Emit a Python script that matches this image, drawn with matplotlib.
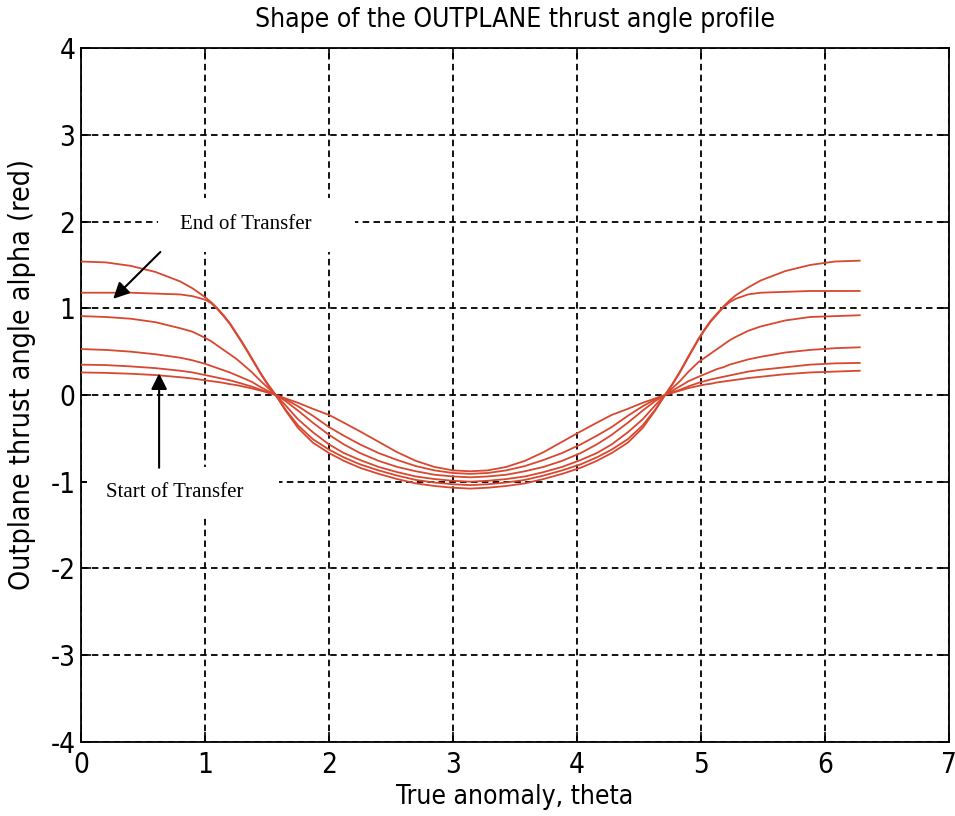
import numpy as np
import matplotlib
matplotlib.use('Agg')
import matplotlib.pyplot as plt
from matplotlib.patches import Rectangle

# true anomaly samples (rad)
theta = [0, 0.2, 0.4, 0.6, 0.8, 0.9, 1.0, 1.05, 1.1, 1.15, 1.2, 1.25, 1.3, 1.38, 1.45, 1.51,
         1.57, 1.65, 1.75, 1.87, 2.0, 2.12, 2.25, 2.4, 2.55, 2.7, 2.85, 3.0, 3.14,
         3.28, 3.43, 3.58, 3.73, 3.88, 4.03, 4.16, 4.28, 4.41, 4.53, 4.63, 4.71, 4.77, 4.83,
         4.90, 4.98, 5.03, 5.08, 5.13, 5.18, 5.23, 5.28, 5.38, 5.48, 5.68, 5.88, 6.08, 6.28]

# outplane thrust angle profiles (rad), from start to end of transfer
alpha_1 = [0.26, 0.255, 0.245, 0.23, 0.205, 0.19, 0.17, 0.16, 0.15, 0.14, 0.125, 0.115, 0.10, 0.075, 0.05, 0.025,
           0.0, -0.04, -0.09, -0.16, -0.23, -0.32, -0.42, -0.54, -0.66, -0.76, -0.83, -0.87, -0.88,
           -0.87, -0.83, -0.76, -0.66, -0.54, -0.42, -0.32, -0.23, -0.16, -0.09, -0.04, 0.0, 0.025, 0.05,
           0.08, 0.105, 0.12, 0.13, 0.145, 0.155, 0.165, 0.175, 0.195, 0.21, 0.24, 0.26, 0.27, 0.28]
alpha_2 = [0.35, 0.345, 0.33, 0.31, 0.28, 0.26, 0.23, 0.215, 0.20, 0.185, 0.17, 0.15, 0.13, 0.095, 0.06, 0.03,
           0.0, -0.05, -0.13, -0.24, -0.37, -0.47, -0.57, -0.67, -0.75, -0.82, -0.87, -0.90, -0.91,
           -0.90, -0.87, -0.82, -0.75, -0.67, -0.57, -0.47, -0.37, -0.24, -0.13, -0.05, 0.0, 0.03, 0.06,
           0.10, 0.14, 0.16, 0.18, 0.195, 0.21, 0.225, 0.24, 0.27, 0.29, 0.32, 0.35, 0.365, 0.37]
alpha_3 = [0.53, 0.52, 0.50, 0.47, 0.43, 0.40, 0.36, 0.335, 0.31, 0.285, 0.26, 0.23, 0.20, 0.15, 0.09, 0.045,
           0.0, -0.07, -0.18, -0.32, -0.46, -0.57, -0.67, -0.76, -0.83, -0.88, -0.92, -0.94, -0.95,
           -0.94, -0.92, -0.88, -0.83, -0.76, -0.67, -0.57, -0.46, -0.32, -0.18, -0.07, 0.0, 0.05, 0.10,
           0.16, 0.21, 0.24, 0.27, 0.30, 0.32, 0.35, 0.37, 0.41, 0.44, 0.49, 0.52, 0.54, 0.55]
alpha_4 = [0.91, 0.90, 0.88, 0.84, 0.77, 0.73, 0.66, 0.62, 0.57, 0.52, 0.47, 0.42, 0.36, 0.26, 0.16, 0.08,
           0.0, -0.12, -0.28, -0.43, -0.57, -0.67, -0.75, -0.83, -0.89, -0.94, -0.97, -0.99, -1.00,
           -0.99, -0.97, -0.94, -0.89, -0.83, -0.75, -0.67, -0.57, -0.43, -0.28, -0.12, 0.0, 0.08, 0.16,
           0.27, 0.38, 0.43, 0.48, 0.53, 0.58, 0.63, 0.67, 0.74, 0.79, 0.86, 0.90, 0.91, 0.92]
alpha_5 = [1.18, 1.18, 1.18, 1.17, 1.16, 1.14, 1.10, 1.06, 0.99, 0.91, 0.82, 0.71, 0.60, 0.41, 0.24, 0.11,
           0.0, -0.17, -0.35, -0.51, -0.63, -0.72, -0.80, -0.87, -0.93, -0.98, -1.01, -1.03, -1.04,
           -1.03, -1.01, -0.98, -0.93, -0.87, -0.80, -0.72, -0.63, -0.51, -0.35, -0.17, 0.0, 0.12, 0.26,
           0.44, 0.64, 0.75, 0.85, 0.93, 1.01, 1.07, 1.11, 1.16, 1.18, 1.19, 1.20, 1.20, 1.20]
alpha_6 = [1.54, 1.53, 1.49, 1.42, 1.31, 1.23, 1.13, 1.07, 1.00, 0.92, 0.83, 0.72, 0.61, 0.42, 0.25, 0.12,
           0.0, -0.18, -0.38, -0.55, -0.67, -0.76, -0.84, -0.91, -0.97, -1.02, -1.05, -1.07, -1.08,
           -1.07, -1.05, -1.02, -0.97, -0.91, -0.84, -0.76, -0.67, -0.55, -0.38, -0.18, 0.0, 0.13, 0.27,
           0.45, 0.65, 0.76, 0.86, 0.94, 1.02, 1.09, 1.15, 1.24, 1.32, 1.43, 1.50, 1.54, 1.55]

profiles = [alpha_1, alpha_2, alpha_3, alpha_4, alpha_5, alpha_6]

plt.rcParams['font.family'] = ['DejaVu Sans']
plt.rcParams['font.stretch'] = 'condensed'
plt.rcParams['axes.unicode_minus'] = False

fig = plt.figure(figsize=(9.55, 8.16), dpi=100)
ax = fig.add_axes([0.0848, 0.0911, 0.9089, 0.8497])

for alpha in profiles:
    ax.plot(theta, alpha, color='#d8472f', lw=1.3, zorder=3)

ax.set_xlim(0, 7)
ax.set_ylim(-4, 4)
ax.set_xticks(range(0, 8))
ax.set_yticks(range(-4, 5))
ax.grid(True, color='black', linestyle=(0, (3.6, 2.4)), lw=1.3)
ax.tick_params(direction='in', length=7, width=1.2, labelsize=20,
               top=True, right=True)
ax.tick_params(axis='x', pad=7)
ax.tick_params(axis='y', pad=4)
for s in ax.spines.values():
    s.set_linewidth(1.3)

ax.set_title('Shape of the OUTPLANE thrust angle profile', fontsize=19, pad=15)
ax.set_xlabel('True anomaly, theta', fontsize=19, labelpad=3)
ax.set_ylabel('Outplane thrust angle alpha (red)', fontsize=20.5)
ax.yaxis.set_label_coords(-0.052, 0.529)

# white backgrounds behind the annotations, hiding the grid
ax.add_patch(Rectangle((0.62, 1.65), 1.59, 0.62, facecolor='white', edgecolor='none', zorder=2.5))
ax.add_patch(Rectangle((0.05, -1.38), 1.55, 0.55, facecolor='white', edgecolor='none', zorder=2.5))

ax.text(1.33, 1.97, 'End of Transfer', family='Liberation Serif', fontsize=15,
        ha='center', va='center', zorder=4)
ax.text(0.76, -1.12, 'Start of Transfer', family='Liberation Serif', fontsize=15,
        ha='center', va='center', zorder=4)

arrow = dict(arrowstyle='-|>', color='black', lw=1.5, mutation_scale=24, shrinkA=0, shrinkB=0)
ax.annotate('', xy=(0.26, 1.11), xytext=(0.64, 1.65), arrowprops=arrow, zorder=5)
ax.annotate('', xy=(0.63, 0.25), xytext=(0.63, -0.84), arrowprops=arrow, zorder=5)

fig.savefig('out.png', dpi=100)
